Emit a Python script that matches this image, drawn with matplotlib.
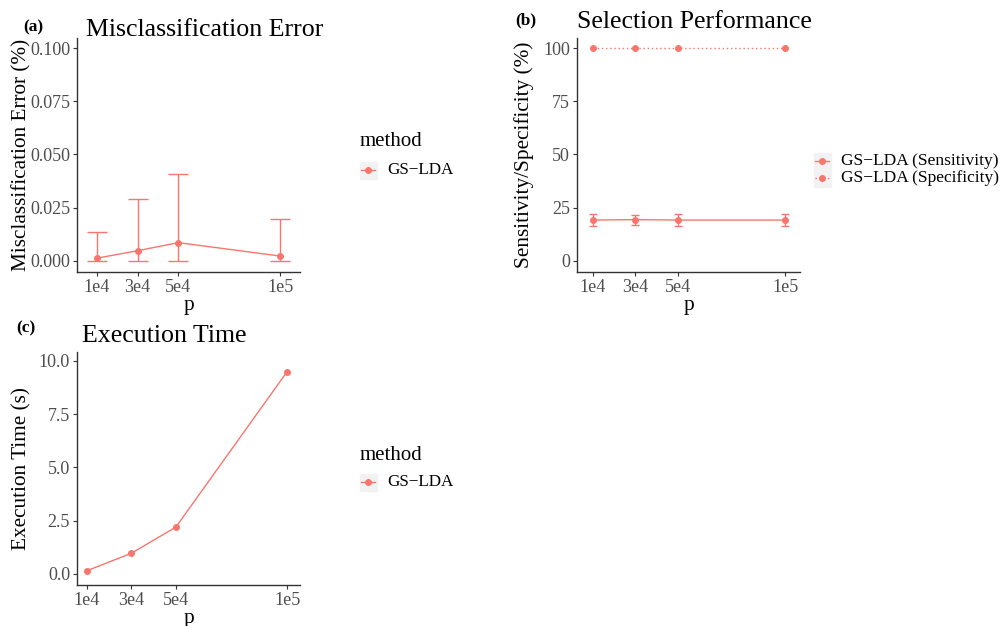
import matplotlib.pyplot as plt
from matplotlib.lines import Line2D
from matplotlib.patches import Rectangle

# data
p = [1e4, 3e4, 5e4, 1e5]
p_labels = ["1e4", "3e4", "5e4", "1e5"]

err_mean = [0.0013, 0.0048, 0.0086, 0.0023]
err_low = [0.0, 0.0, 0.0, 0.0]
err_high = [0.0135, 0.0293, 0.0407, 0.0197]

sens_mean = [19.2, 19.4, 19.2, 19.2]
sens_low = [16.5, 17.0, 16.5, 16.5]
sens_high = [22.0, 21.6, 22.0, 22.0]
spec_mean = [100.0, 100.0, 100.0, 100.0]

time_mean = [0.15, 0.97, 2.2, 9.5]

col = "#F8766D"
plt.rcParams['font.family'] = ['Liberation Serif', 'DejaVu Serif']

W, H = 1002, 626
fig = plt.figure(figsize=(W / 100, H / 100), dpi=100)


def px_axes(left, top, right, bottom):
    return fig.add_axes([left / W, 1 - bottom / H, (right - left) / W, (bottom - top) / H])


def style(ax, title, tx, ty, ylabel, ylx, tag, tagx, tagy):
    for s in ["top", "right"]:
        ax.spines[s].set_visible(False)
    for s in ["left", "bottom"]:
        ax.spines[s].set_color("#333333")
        ax.spines[s].set_linewidth(1.0)
    ax.set_xticks(p)
    ax.set_xticklabels(p_labels)
    ax.tick_params(colors="#333333", labelcolor="#4D4D4D", labelsize=13, length=3, width=0.8, pad=2)
    ax.set_xlabel("p", fontsize=15.3, labelpad=0)
    ax.set_ylabel(ylabel, fontsize=15.3)
    ax.yaxis.set_label_coords(ylx, 0.5)
    # title and panel tag, placed in pixels
    fig.text(tx / W, 1 - ty / H, title, fontsize=18.6, va="baseline", ha="left")
    fig.text(tagx / W, 1 - tagy / H, tag, fontsize=12.5, fontweight="bold", va="center", ha="left")


def legend_key(x, y, text, ls, fs, box=17):
    # grey key background, line with point, label
    fig.patches.append(Rectangle(((x - box / 2) / W, 1 - (y + box / 2) / H), box / W, box / H,
                                 transform=fig.transFigure, color="#F2F2F2", zorder=0))
    fig.lines.append(Line2D([(x - 7) / W, (x + 7) / W], [1 - y / H, 1 - y / H], transform=fig.transFigure,
                            color=col, lw=1, ls=ls))
    fig.lines.append(Line2D([x / W], [1 - y / H], transform=fig.transFigure, color=col, marker="o",
                            markersize=4, lw=0))
    fig.text((x + 19) / W, 1 - y / H, text, fontsize=fs, va="center", ha="left")


# (a) misclassification error
ax1 = px_axes(77, 38, 300, 272)
ax1.errorbar(p, err_mean, yerr=[[m - l for m, l in zip(err_mean, err_low)],
                                [h - m for m, h in zip(err_mean, err_high)]],
             color=col, lw=1, capsize=7.2, capthick=1, marker="o", markersize=4)
ax1.set_xlim(0.02e4, 10.98e4)
ax1.set_ylim(-0.0052, 0.1047)
ax1.set_yticks([0.0, 0.025, 0.05, 0.075, 0.1])
ax1.set_yticklabels(["0.000", "0.025", "0.050", "0.075", "0.100"])
style(ax1, "Misclassification Error", 86, 36, "Misclassification Error (%)", -0.204, "(a)", 23, 27)

# (b) selection performance
ax2 = px_axes(577, 38, 800, 272)
ax2.errorbar(p, sens_mean, yerr=[[m - l for m, l in zip(sens_mean, sens_low)],
                                 [h - m for m, h in zip(sens_mean, sens_high)]],
             color=col, lw=1, capsize=3, capthick=1, marker="o", markersize=4)
ax2.plot(p, spec_mean, color=col, lw=1, ls=(0, (1, 2)), marker="o", markersize=4)
ax2.set_xlim(0.265e4, 10.7e4)
ax2.set_ylim(-5.2, 104.7)
ax2.set_yticks([0, 25, 50, 75, 100])
style(ax2, "Selection Performance", 577, 28, "Sensitivity/Specificity (%)", -0.195, "(b)", 515, 20)

# (c) execution time
ax3 = px_axes(77, 352, 300, 585)
ax3.plot(p, time_mean, color=col, lw=1, marker="o", markersize=4)
ax3.set_xlim(0.557e4, 10.576e4)
ax3.set_ylim(-0.52, 10.42)
ax3.set_yticks([0, 2.5, 5, 7.5, 10])
ax3.set_yticklabels(["0.0", "2.5", "5.0", "7.5", "10.0"])
style(ax3, "Execution Time", 82, 342, "Execution Time (s)", -0.204, "(c)", 16, 328)

# legends
fig.text(360 / W, 1 - 142 / H, "method", fontsize=15, va="center")
legend_key(368, 170, "GS\u2212LDA", "-", 12.3)
fig.text(360 / W, 1 - 456 / H, "method", fontsize=15, va="center")
legend_key(368, 482, "GS\u2212LDA", "-", 12.3)
legend_key(822, 161, "GS\u2212LDA (Sensitivity)", "-", 12.5)
legend_key(822, 178, "GS\u2212LDA (Specificity)", (0, (1, 2)), 12.5)

fig.savefig("out.png", dpi=100)
